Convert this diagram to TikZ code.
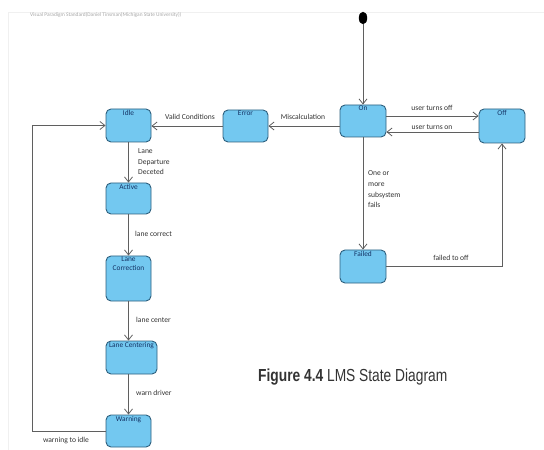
\documentclass[tikz,border=0pt]{standalone}
\usepackage{fontspec}
\setmainfont{Carlito}
\newfontfamily\capfont{Liberation Sans}
\usetikzlibrary{arrows.meta,shapes.geometric}
\definecolor{boxfill}{RGB}{115,200,240}
\definecolor{boxline}{RGB}{45,95,125}
\definecolor{boxtext}{RGB}{20,50,100}
\definecolor{edgecol}{RGB}{95,95,95}
\definecolor{txtcol}{RGB}{50,50,50}
\begin{document}
\begin{tikzpicture}[x=1bp,y=-1bp,
  state/.style={draw=boxline,fill=boxfill,line width=0.9bp,rounded corners=5bp,inner sep=0pt},
  stname/.style={anchor=north,inner sep=1.2bp,font=\fontsize{7.4}{8.5}\selectfont,text=boxtext,align=center},
  edge/.style={draw=edgecol,line width=0.8bp,-{Straight Barb[length=5bp,width=8bp]}},
  elabel/.style={font=\fontsize{7.6}{11}\selectfont,text=txtcol,inner sep=0pt},
  frameline/.style={draw=black!6,line width=0.6bp}]
\useasboundingbox (0,0) rectangle (544,450);
% faint diagram frame and header
\draw[frameline] (8,450) -- (8,12) -- (544,12);
\node[font=\fontsize{5.4}{6}\selectfont,text=black!35,anchor=west,inner sep=0pt] (hdr) at (30,15) {Visual Paradigm Standard(Daniel Tinsman(Michigan State University))};
% states
\node[state,minimum width=45bp,minimum height=33bp,label={[stname]north:Idle}] (idle) at (128.5,125.5) {};
\node[state,minimum width=45bp,minimum height=31bp,label={[stname]north:Active}] (active) at (128.5,198.5) {};
\node[state,minimum width=45bp,minimum height=45bp,label={[stname]north:{Lane\\Correction}}] (lcorr) at (128.5,278.5) {};
\node[state,minimum width=51bp,minimum height=33bp,label={[stname]north:Lane Centering}] (lcent) at (131.5,357.5) {};
\node[state,minimum width=45bp,minimum height=32bp,label={[stname]north:Warning}] (warn) at (128.5,431) {};
\node[state,minimum width=45bp,minimum height=32bp,label={[stname]north:Error}] (error) at (245.5,126) {};
\node[state,minimum width=46bp,minimum height=32bp,label={[stname]north:On}] (on) at (363,121) {};
\node[state,minimum width=46bp,minimum height=34bp,label={[stname]north:Off}] (off) at (502,126) {};
\node[state,minimum width=46bp,minimum height=33bp,label={[stname]north:Failed}] (failed) at (363,266.5) {};
\node[draw=black,fill=black,ellipse,minimum width=8bp,minimum height=12bp,inner sep=0pt] (init) at (363,18) {};
\coordinate (loop) at (32,431);
% transitions
\draw[edge] (init) -- (on.north);
\draw[edge] ([yshift=5bp]on.east) -- ([yshift=5bp]on.east -| off.west);
\draw[edge] ([yshift=-6bp]off.west) -- ([yshift=-6bp]off.west -| on.east);
\draw[edge] ([yshift=-5bp]on.west) -- ([yshift=-5bp]on.west -| error.east);
\draw[edge] (error.west) -- (error.west -| idle.east);
\draw[edge] (on.south) -- (failed.north);
\draw[edge] (failed.east) -| (off.south);
\draw[edge] (idle.south) -- (active.north);
\draw[edge] (active.south) -- (lcorr.north);
\draw[edge] (lcorr.south) -- (lcorr.south |- lcent.north);
\draw[edge] (warn.north |- lcent.south) -- (warn.north);
\draw[edge] (warn.west) -- (loop) |- (idle.west);
% labels
\node[elabel] (l1) at (432,108) {user turns off};
\node[elabel] (l2) at (432,127) {user turns on};
\node[elabel] (l3) at (303,117) {Miscalculation};
\node[elabel] (l4) at (190,117) {Valid Conditions};
\node[elabel,anchor=north west,align=left] (l5) at (138,148) {Lane\\Departure\\Deceted};
\node[elabel,anchor=west] (l6) at (135,234) {lane correct};
\node[elabel,anchor=west] (l7) at (136,320) {lane center};
\node[elabel,anchor=west] (l8) at (136,393) {warn driver};
\node[elabel] (l9) at (66,441) {warning to idle};
\node[elabel,anchor=north west,align=left] (l10) at (368,170) {One or\\more\\subsystem\\fails};
\node[elabel] (l11) at (451,258) {failed to off};
\node[anchor=west,inner sep=0pt,font=\capfont\fontsize{17.5}{19}\selectfont,text=black!80] (cap) at (258,377) {\scalebox{0.79}[1]{\textbf{Figure 4.4} LMS State Diagram}};
\end{tikzpicture}
\end{document}
